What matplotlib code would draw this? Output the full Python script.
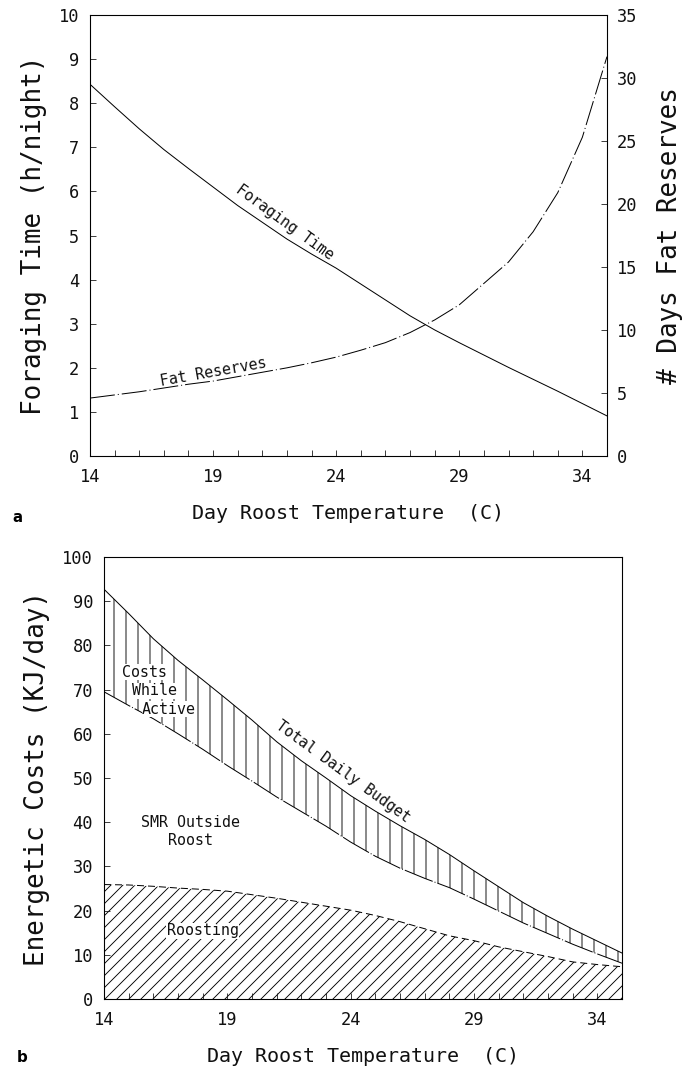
import numpy as np
import matplotlib.pyplot as plt
from matplotlib.ticker import MultipleLocator, FixedLocator

# day roost temperature (C)
temp = np.arange(14, 36)

# panel a
forage_h = [8.43, 7.92, 7.42, 6.95, 6.52, 6.10, 5.68, 5.30, 4.92, 4.58, 4.26,
            3.90, 3.54, 3.18, 2.86, 2.57, 2.29, 2.01, 1.74, 1.47, 1.19, 0.91]
fat_days = [4.6, 4.85, 5.1, 5.4, 5.7, 5.95, 6.3, 6.65, 7.0, 7.4, 7.85,
            8.4, 9.0, 9.8, 10.8, 12.0, 13.7, 15.4, 17.8, 20.9, 25.3, 31.7]

# panel b (KJ/day)
total_kj = [92.7, 87.2, 81.5, 76.6, 72.2, 67.7, 63.1, 58.2, 53.9, 50.0, 46.0,
            42.5, 39.2, 36.1, 32.7, 29.0, 25.4, 21.8, 18.7, 15.8, 13.1, 10.4]
smr_kj = [69.5, 66.4, 63.4, 60.0, 56.5, 52.8, 49.3, 45.7, 42.4, 39.1, 35.5,
          32.3, 29.6, 27.3, 25.2, 22.6, 19.9, 17.2, 14.8, 12.4, 10.2, 8.1]
roost_kj = [25.9, 25.8, 25.5, 25.1, 24.8, 24.4, 23.6, 22.8, 21.9, 21.0, 20.1,
            18.9, 17.5, 15.9, 14.3, 13.2, 11.8, 10.7, 9.6, 8.4, 7.8, 7.3]

xmajor = [14, 19, 24, 29, 34]
xlabel = 'Day Roost Temperature  (C)'

DPI = 72
plt.rcParams['font.family'] = ['DejaVu Sans Mono', 'DejaVu Sans']
plt.rcParams['hatch.linewidth'] = 0.9
ink = '#111111'

fig = plt.figure(figsize=(694 / DPI, 1067 / DPI), dpi=DPI)


def style_axes(ax):
    ax.set_xlim(14, 35)
    ax.xaxis.set_major_locator(FixedLocator(xmajor))
    ax.xaxis.set_minor_locator(MultipleLocator(1))
    ax.tick_params(which='both', direction='in', length=6, width=0.8,
                   labelsize=17, colors=ink, top=False, right=False)
    ax.tick_params(axis='x', which='both', pad=12)
    ax.tick_params(axis='y', which='both', pad=11)
    for sp in ax.spines.values():
        sp.set_linewidth(1.1)
    ax.set_xlabel(xlabel, fontsize=20, color=ink, labelpad=18)


# ---- a ----
ax1 = fig.add_axes([0.1297, 0.5726, 0.7449, 0.4133])
style_axes(ax1)
ax1.set_ylim(0, 10)
ax1.yaxis.set_major_locator(MultipleLocator(1))
ax1.set_ylabel('Foraging Time (h/night)', fontsize=26, color=ink, labelpad=12)
ax1.plot(temp, forage_h, color='k', lw=1)

ax2 = ax1.twinx()
ax2.set_ylim(0, 35)
ax2.yaxis.set_major_locator(MultipleLocator(5))
ax2.tick_params(axis='y', direction='in', length=6, width=0.8, labelsize=17,
                colors=ink, pad=10)
ax2.set_ylabel('# Days Fat Reserves', fontsize=26, color=ink, rotation=90,
               labelpad=20)
ax2.plot(temp, fat_days, color='k', lw=1, dashes=(25, 3, 1, 3))

ax1.text(21.9, 5.3, 'Foraging Time', fontsize=15, rotation=-36,
         rotation_mode='anchor', ha='center', va='center', color=ink)
ax1.text(19.0, 1.9, 'Fat Reserves', fontsize=15, rotation=10,
         rotation_mode='anchor', ha='center', va='center', color=ink)

# ---- b ----
ax3 = fig.add_axes([0.1499, 0.0637, 0.7464, 0.4143])
style_axes(ax3)
ax3.set_ylim(0, 100)
ax3.yaxis.set_major_locator(MultipleLocator(10))
ax3.set_ylabel('Energetic Costs (KJ/day)', fontsize=26, color=ink, labelpad=12)

ax3.fill_between(temp, smr_kj, total_kj, facecolor='white', edgecolor='k',
                 hatch='|', linewidth=0)
ax3.fill_between(temp, 0, roost_kj, facecolor='white', edgecolor='k',
                 hatch='//', linewidth=0)
ax3.plot(temp, total_kj, color='k', lw=1)
ax3.plot(temp, smr_kj, color='k', lw=1, dashes=(30, 2, 1, 2))
ax3.plot(temp, roost_kj, color='k', lw=1, dashes=(7, 4))

box = dict(facecolor='white', edgecolor='none', pad=0.5)
for i, word in enumerate(['Costs', 'While', 'Active']):
    ax3.annotate(word, xy=(14.73, 75.6), xytext=(10 * i, -18.5 * i),
                 textcoords='offset points', fontsize=15, ha='left', va='top',
                 color=ink, bbox=box)
ax3.text(17.5, 41.6, 'SMR Outside\nRoost', fontsize=15, ha='center', va='top',
         linespacing=1.25, color=ink)
ax3.text(18.0, 15.4, 'Roosting', fontsize=15, ha='center', va='center',
         color=ink, bbox=box)
ax3.text(23.7, 51.4, 'Total Daily Budget', fontsize=15, rotation=-36,
         rotation_mode='anchor', ha='center', va='center', color=ink)

fig.text(17 / 694, 1 - 517 / 1067, 'a', fontsize=15, fontweight='bold',
         family='DejaVu Sans', ha='center', va='center')
fig.text(22 / 694, 1 - 1058 / 1067, 'b', fontsize=15, fontweight='bold',
         family='DejaVu Sans', ha='center', va='center')

fig.savefig('out.png', dpi=DPI)
